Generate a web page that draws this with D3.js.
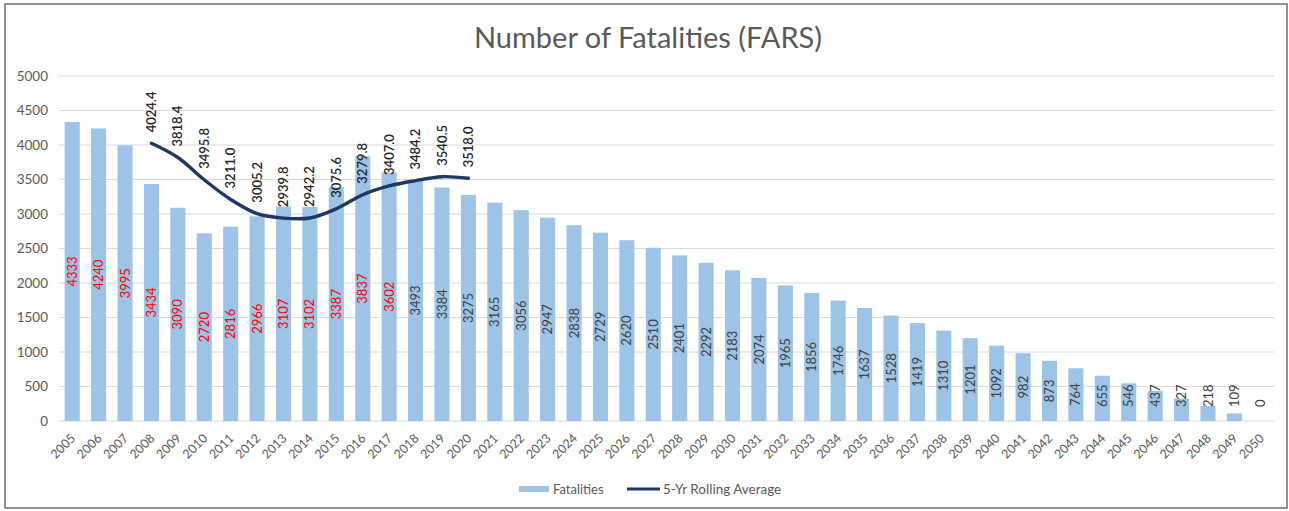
<!DOCTYPE html>
<html>
<head>
<meta charset="utf-8">
<script src="https://cdn.jsdelivr.net/npm/d3@7"></script>
<style>
  body { margin: 0; background: #fff; }
  svg text { font-family: Lato, "Open Sans", sans-serif; }
</style>
</head>
<body>
<div id="chart"></div>
<script>
var years = d3.range(2005, 2051).map(String);
var fatalities = [4333, 4240, 3995, 3434, 3090, 2720, 2816, 2966, 3107, 3102,
    3387, 3837, 3602, 3493, 3384, 3275, 3165, 3056, 2947, 2838,
    2729, 2620, 2510, 2401, 2292, 2183, 2074, 1965, 1856, 1746,
    1637, 1528, 1419, 1310, 1201, 1092, 982, 873, 764, 655,
    546, 437, 327, 218, 109, 0];
var rollingYears = d3.range(2008, 2021).map(String);
var rollingAvg = [4024.4, 3818.4, 3495.8, 3211.0, 3005.2, 2939.8, 2942.2,
    3075.6, 3279.8, 3407.0, 3484.2, 3540.5, 3518.0];
var yTicks = d3.range(0, 5001, 500);
var redUntil = 2017; // labels drawn in red up to this year

var width = 1289,
    height = 511,
    margin = {top: 76, right: 15, bottom: 90, left: 59};

var svg = d3.select("#chart").append("svg")
    .attr("width", width)
    .attr("height", height);

// chart frame
svg.append("rect")
    .attr("x", 5).attr("y", 4)
    .attr("width", width - 7).attr("height", 504)
    .attr("fill", "none")
    .attr("stroke", "#777")
    .attr("stroke-width", 1.6);

svg.append("text")
    .attr("x", 648)
    .attr("y", 48)
    .attr("text-anchor", "middle")
    .style("font-size", "29px")
    .style("fill", "#595959")
    .text("Number of Fatalities (FARS)");

var x = d3.scaleBand()
    .domain(years)
    .range([margin.left, width - margin.right])
    .paddingInner(0.43)
    .paddingOuter(0.215);

var y = d3.scaleLinear()
    .domain([0, 5000])
    .range([height - margin.bottom, margin.top]);

// gridlines
svg.append("g")
    .selectAll("line")
    .data(yTicks)
    .enter().append("line")
    .attr("x1", margin.left)
    .attr("x2", width - margin.right)
    .attr("y1", function(d) { return y(d); })
    .attr("y2", function(d) { return y(d); })
    .style("stroke", "#d9d9d9")
    .style("stroke-width", 1);

// y labels
svg.append("g")
    .selectAll("text")
    .data(yTicks)
    .enter().append("text")
    .attr("x", 48)
    .attr("y", function(d) { return y(d); })
    .attr("dy", "0.35em")
    .attr("text-anchor", "end")
    .style("font-size", "13.5px")
    .style("fill", "#595959")
    .text(function(d) { return d; });

// bars
svg.append("g")
    .selectAll("rect")
    .data(fatalities)
    .enter().append("rect")
    .attr("x", function(d, i) { return x(years[i]); })
    .attr("width", x.bandwidth())
    .attr("y", function(d) { return y(d); })
    .attr("height", function(d) { return y(0) - y(d); })
    .style("fill", "#9dc3e6");

// x labels
svg.append("g")
    .selectAll("text")
    .data(years)
    .enter().append("text")
    .attr("transform", function(d) {
        return "translate(" + (x(d) + x.bandwidth() / 2 + 4) + "," + (y(0) + 18) + ") rotate(-45)";
    })
    .attr("text-anchor", "end")
    .style("font-size", "12.5px")
    .style("fill", "#595959")
    .text(function(d) { return d; });

// bar value labels, rotated, centred in the bar
svg.append("g")
    .selectAll("text")
    .data(fatalities)
    .enter().append("text")
    .attr("transform", function(d, i) {
        var cx = x(years[i]) + x.bandwidth() / 2;
        var len = String(d).length * 7.5;
        var cy = Math.min((y(d) + y(0)) / 2, y(0) - 14 - len / 2);
        return "translate(" + cx + "," + cy + ") rotate(-90)";
    })
    .attr("text-anchor", "middle")
    .attr("dy", "0.35em")
    .style("font-size", "13px")
    .style("fill", function(d, i) { return +years[i] <= redUntil ? "#ff0000" : "#404040"; })
    .text(function(d) { return d; });

// rolling average line
var line = d3.line()
    .x(function(d, i) { return x(rollingYears[i]) + x.bandwidth() / 2; })
    .y(function(d) { return y(d); })
    .curve(d3.curveCatmullRom.alpha(0.5));

svg.append("path")
    .datum(rollingAvg)
    .attr("d", line)
    .style("fill", "none")
    .style("stroke", "#1f3864")
    .style("stroke-width", 3.4)
    .style("stroke-linecap", "round");

svg.append("g")
    .selectAll("text")
    .data(rollingAvg)
    .enter().append("text")
    .attr("transform", function(d, i) {
        var cx = x(rollingYears[i]) + x.bandwidth() / 2;
        return "translate(" + cx + "," + (y(d) - 11) + ") rotate(-90)";
    })
    .attr("text-anchor", "start")
    .attr("dy", "0.35em")
    .style("font-size", "13px")
    .style("font-weight", "600")
    .style("fill", "#262626")
    .text(function(d) { return d.toFixed(1); });

// legend
var legend = svg.append("g");
legend.append("rect")
    .attr("x", 519).attr("y", 486)
    .attr("width", 30).attr("height", 6)
    .style("fill", "#9dc3e6");
legend.append("text")
    .attr("x", 553).attr("y", 494)
    .style("font-size", "13px")
    .style("fill", "#595959")
    .text("Fatalities");
legend.append("line")
    .attr("x1", 627).attr("x2", 660)
    .attr("y1", 489).attr("y2", 489)
    .style("stroke", "#1f3864")
    .style("stroke-width", 3);
legend.append("text")
    .attr("x", 663).attr("y", 494)
    .style("font-size", "13.5px")
    .style("fill", "#595959")
    .text("5-Yr Rolling Average");
</script>
</body>
</html>
